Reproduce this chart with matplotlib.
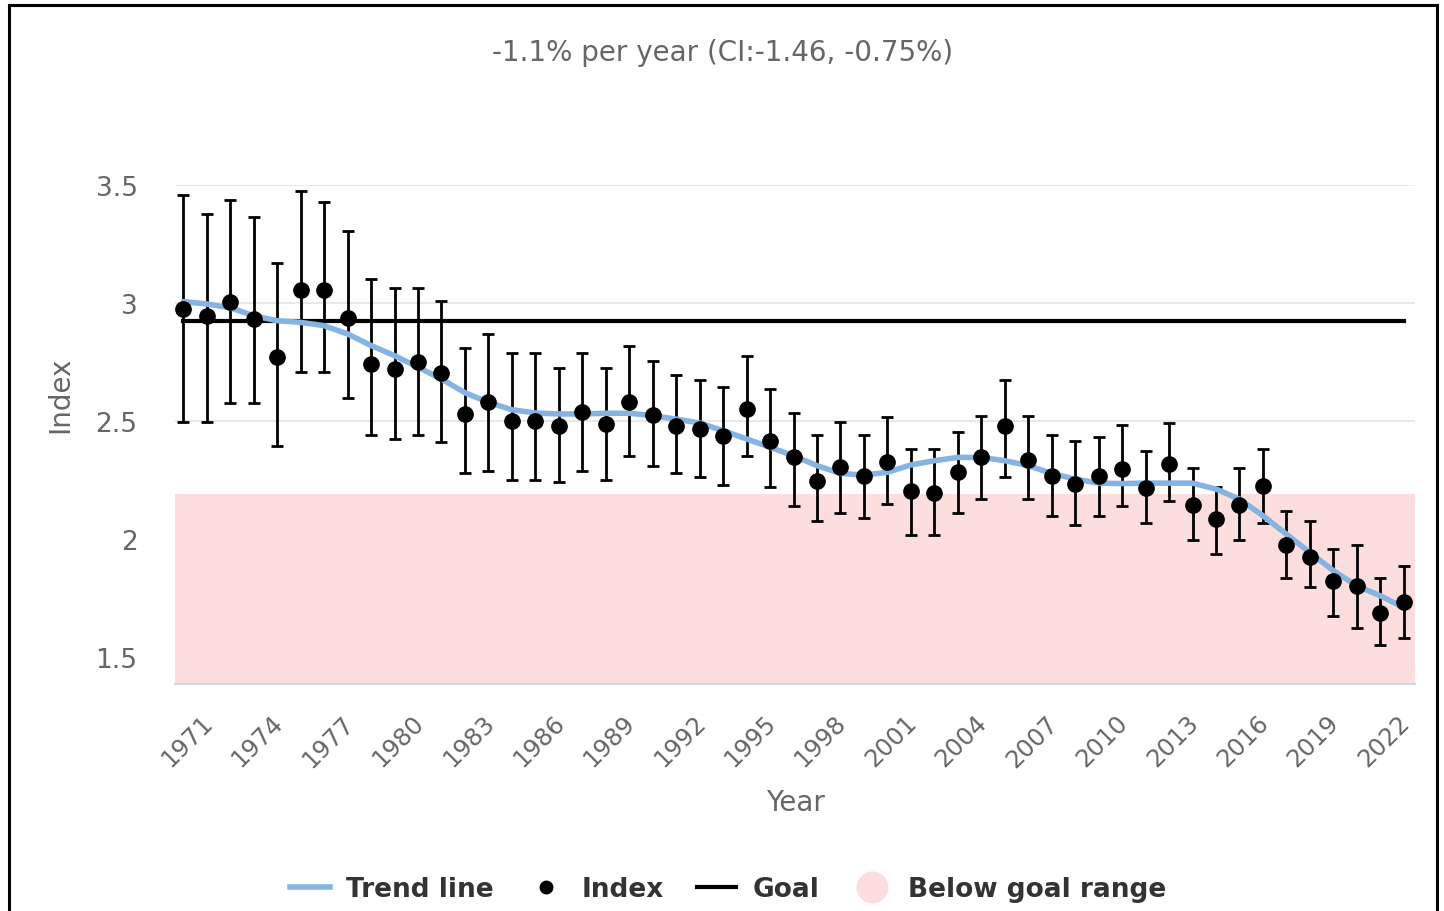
import matplotlib
matplotlib.use('Agg')
import matplotlib.pyplot as plt
from matplotlib.lines import Line2D
from matplotlib.transforms import ScaledTranslation

# ---------------- data ----------------
years = list(range(1971, 2024))
index_values = [2.975, 2.946, 3.006, 2.932, 2.773, 3.056, 3.056, 2.935, 2.743, 2.720,
                2.751, 2.702, 2.530, 2.579, 2.499, 2.499, 2.477, 2.537, 2.487, 2.579,
                2.527, 2.477, 2.466, 2.438, 2.551, 2.417, 2.346, 2.245, 2.307, 2.266,
                2.325, 2.205, 2.195, 2.285, 2.346, 2.477, 2.337, 2.266, 2.233, 2.266,
                2.297, 2.216, 2.318, 2.144, 2.085, 2.144, 2.226, 1.975, 1.923, 1.821,
                1.800, 1.686, 1.732]
upper_ci = [3.457, 3.377, 3.436, 3.366, 3.170, 3.476, 3.427, 3.305, 3.102, 3.064,
            3.064, 3.010, 2.808, 2.869, 2.788, 2.788, 2.726, 2.788, 2.726, 2.820,
            2.756, 2.695, 2.675, 2.646, 2.777, 2.636, 2.534, 2.442, 2.495, 2.442,
            2.516, 2.381, 2.381, 2.455, 2.523, 2.675, 2.523, 2.442, 2.414, 2.433,
            2.483, 2.372, 2.492, 2.300, 2.219, 2.300, 2.381, 2.120, 2.078, 1.958,
            1.976, 1.835, 1.888]
lower_ci = [2.495, 2.495, 2.575, 2.575, 2.393, 2.706, 2.706, 2.596, 2.442, 2.424,
            2.442, 2.412, 2.280, 2.290, 2.250, 2.250, 2.240, 2.290, 2.250, 2.353,
            2.311, 2.280, 2.262, 2.230, 2.353, 2.219, 2.142, 2.078, 2.110, 2.089,
            2.148, 2.018, 2.018, 2.110, 2.169, 2.262, 2.169, 2.099, 2.059, 2.099,
            2.142, 2.068, 2.160, 1.997, 1.936, 1.997, 2.068, 1.835, 1.795, 1.673,
            1.622, 1.551, 1.581]
trend_values = [3.006, 2.996, 2.980, 2.946, 2.925, 2.918, 2.904, 2.869, 2.820, 2.777,
                2.728, 2.678, 2.620, 2.579, 2.548, 2.534, 2.530, 2.530, 2.533, 2.533,
                2.523, 2.508, 2.492, 2.459, 2.424, 2.389, 2.353, 2.311, 2.278, 2.271,
                2.283, 2.314, 2.332, 2.346, 2.346, 2.332, 2.311, 2.278, 2.254, 2.237,
                2.235, 2.237, 2.237, 2.237, 2.212, 2.169, 2.099, 2.021, 1.943, 1.866,
                1.802, 1.760, 1.710]
goal_value = 2.924
below_goal_top = 2.19
tick_years = list(range(1971, 2023, 3))
y_ticks = [1.5, 2, 2.5, 3, 3.5]
y_tick_labels = ['1.5', '2', '2.5', '3', '3.5']
title_text = '-1.1% per year (CI:-1.46, -0.75%)'
legend_labels = ['Trend line', 'Index', 'Goal', 'Below goal range']

# ---------------- style ----------------
plt.rcParams['font.family'] = ['DejaVu Sans']
trend_color = '#85b4e3'
pink = '#fcdede'
grey_text = '#666666'

W, H = 1444, 912
fig = plt.figure(figsize=(W / 100, H / 100), dpi=100)
fig.patch.set_facecolor('white')
ax = fig.add_axes([175 / W, 1 - 685 / H, 1240 / W, 499 / H])
ax.set_xlim(1970.645, 2023.48)
ax.set_ylim(1.386, 3.5)

ax.set_yticks(y_ticks)
ax.set_yticklabels(y_tick_labels)
ax.grid(axis='y', color='#e6e6e6', lw=1.3)
ax.set_axisbelow(True)
ax.axhspan(1.386, below_goal_top, color=pink, lw=0, zorder=0.8)

for s in ['top', 'right', 'left']:
    ax.spines[s].set_visible(False)
ax.spines['bottom'].set_color('#ccd6eb')
ax.spines['bottom'].set_linewidth(1.5)

# goal line
ax.plot([years[0], years[-1]], [goal_value, goal_value], color='black', lw=3, zorder=2)

# error bars
yerr = [[v - lo for v, lo in zip(index_values, lower_ci)],
        [hi - v for v, hi in zip(index_values, upper_ci)]]
ax.errorbar(years, index_values, yerr=yerr, fmt='none', ecolor='black',
            elinewidth=2, capsize=4, capthick=2, zorder=3)
# trend line
ax.plot(years, trend_values, color=trend_color, lw=4, zorder=4, solid_capstyle='round')
# index dots
ax.plot(years, index_values, 'o', color='black', ms=11, zorder=5)

ax.set_xticks(tick_years)
ax.set_xticklabels([str(y) for y in tick_years], rotation=45, ha='right',
                   rotation_mode='anchor')
ax.tick_params(axis='x', length=0, pad=19, labelsize=17.5, labelcolor=grey_text)
ax.tick_params(axis='y', length=0, pad=27, labelsize=19, labelcolor=grey_text)
off = ScaledTranslation(17 / 100, 0, fig.dpi_scale_trans)
for lbl in ax.get_xticklabels():
    lbl.set_transform(lbl.get_transform() + off)

fig.text(723 / W, 1 - 53 / H, title_text, ha='center', va='center',
         color=grey_text, fontsize=20)
fig.text(60 / W, 1 - 395 / H, 'Index', rotation=90, ha='center', va='center',
         color=grey_text, fontsize=20)
fig.text(795 / W, 1 - 803 / H, 'Year', ha='center', va='center',
         color=grey_text, fontsize=20)

handles = [Line2D([], [], color=trend_color, lw=4),
           Line2D([], [], marker='o', color='black', ls='none', ms=9),
           Line2D([], [], color='black', lw=3),
           Line2D([], [], marker='o', color=pink, ls='none', ms=22)]
fig.legend(handles, legend_labels, loc='center', bbox_to_anchor=(728 / W, 1 - 890 / H),
           ncol=4, frameon=False, prop={'weight': 'bold', 'size': 19},
           labelcolor='#333333', handlelength=1.5, columnspacing=1.25, handletextpad=0.6)

# screenshot frame
for xs, ys in [([9, 9], [912, 6]), ([9, 1437], [6, 6]), ([1437, 1437], [6, 912])]:
    fig.add_artist(Line2D([x / W for x in xs], [1 - y / H for y in ys], color='black',
                          lw=2.2, transform=fig.transFigure))

fig.savefig('out.png', dpi=100)
